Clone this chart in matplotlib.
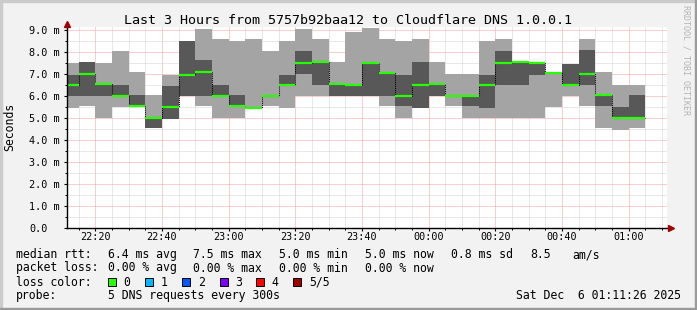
import matplotlib
matplotlib.use('Agg')
import matplotlib.pyplot as plt
from matplotlib.patches import Rectangle

# start of each 5 minute step
steps = ["22:10", "22:15", "22:20", "22:25", "22:30", "22:35", "22:40", "22:45", "22:50", "22:55",
         "23:00", "23:05", "23:10", "23:15", "23:20", "23:25", "23:30", "23:35", "23:40", "23:45",
         "23:50", "23:55", "00:00", "00:05", "00:10", "00:15", "00:20", "00:25", "00:30", "00:35",
         "00:40", "00:45", "00:50", "00:55", "01:00"]

# sorted pings in ms (5 requests per step)
rtt_min = [5.47, 5.55, 5.00, 5.50, 5.55, 4.55, 4.97, 6.00, 5.55, 5.00,
           5.00, 5.47, 5.55, 5.47, 6.00, 6.00, 6.00, 6.00, 6.00, 5.55,
           5.00, 5.47, 6.00, 5.55, 5.00, 5.00, 5.00, 5.00, 5.00, 5.50,
           6.00, 5.55, 4.56, 4.48, 4.56]
rtt_p2 = [6.00, 6.00, 6.00, 6.03, 5.55, 4.55, 4.97, 6.00, 6.00, 6.03,
          5.55, 5.47, 6.03, 6.50, 7.03, 6.53, 6.00, 6.00, 6.00, 6.00,
          5.55, 5.47, 6.00, 6.03, 5.55, 5.47, 6.50, 6.53, 6.95, 7.08,
          6.50, 6.53, 5.55, 5.02, 5.02]
rtt_median = [6.50, 7.03, 6.55, 6.03, 5.55, 5.02, 5.50, 6.97, 7.10, 6.03,
              5.55, 5.47, 6.03, 6.50, 7.52, 7.55, 6.55, 6.50, 7.52, 7.08,
              6.03, 6.50, 6.55, 6.03, 6.03, 6.50, 7.52, 7.55, 7.52, 7.08,
              6.50, 7.03, 6.05, 5.02, 5.02]
rtt_p4 = [6.95, 7.55, 6.55, 6.50, 6.07, 5.02, 6.45, 8.50, 7.64, 6.50,
          6.07, 5.47, 6.03, 6.95, 8.05, 7.55, 6.55, 6.50, 7.52, 7.08,
          6.95, 7.55, 6.55, 6.03, 6.03, 6.95, 8.05, 7.55, 7.52, 7.08,
          7.45, 8.09, 6.05, 5.50, 6.05]
rtt_max = [7.52, 7.55, 7.52, 8.05, 7.10, 6.05, 6.95, 8.50, 9.05, 8.59,
           8.50, 8.59, 8.05, 8.50, 9.05, 8.59, 7.55, 8.92, 9.09, 8.59,
           8.50, 8.59, 7.55, 7.03, 7.03, 8.50, 8.59, 7.55, 7.52, 7.08,
           7.45, 8.59, 7.09, 6.53, 6.53]

tick_times = ["22:20", "22:40", "23:00", "23:20", "23:40", "00:00", "00:20", "00:40", "01:00"]
y_labels = ["0.0", "1.0 m", "2.0 m", "3.0 m", "4.0 m", "5.0 m", "6.0 m", "7.0 m", "8.0 m", "9.0 m"]

loss_names = ["0", "1", "2", "3", "4", "5/5"]
loss_colors = ["#26ff00", "#00b8ff", "#0059ff", "#7e00ff", "#ff0000", "#a10000"]


def to_min(s):
    h, m = map(int, s.split(":"))
    return ((h - 22) % 24) * 60 + m


W, H = 697, 310
MONO = "DejaVu Sans Mono"
LIGHT = "#a4a4a4"
DARK = "#585858"
GREEN = "#26ff00"


def fx(x):
    return x / W


def fy(y):
    return 1 - y / H


fig = plt.figure(figsize=(W / 100, H / 100), dpi=100, facecolor="#f2f2f2")

# plot area: 3 hours ending 01:11:26, 22 px per ms
t_start = to_min("22:11") + 26 / 60
t_end = t_start + 180
y_top = 9.15
x0, x1, y0 = 66.7, 666.7, 228.3
ax = fig.add_axes([fx(x0), fy(y0), (x1 - x0) / W, y_top * 22 / H])
ax.set_facecolor("white")
ax.set_xlim(t_start, t_end)
ax.set_ylim(0, y_top)

t = [to_min(s) for s in steps]
ax.bar(t, [b - a for a, b in zip(rtt_min, rtt_max)], bottom=rtt_min, width=5,
       align="edge", color=LIGHT, linewidth=0, zorder=1)
ax.bar(t, [b - a for a, b in zip(rtt_p2, rtt_p4)], bottom=rtt_p2, width=5,
       align="edge", color=DARK, linewidth=0, zorder=1.2)
ax.step(t + [t[-1] + 5], rtt_median + [rtt_median[-1]], where="post",
        color="black", lw=0.75, ls=(0, (1, 1)), zorder=3)
ax.hlines(rtt_median, t, [v + 5 for v in t], colors=GREEN, lw=1.6, zorder=4)

# grid + ticks
ax.set_xticks([to_min(s) for s in tick_times])
ax.set_xticklabels(tick_times, family=MONO, fontsize=7.3)
ax.set_xticks([v for v in range(15, 191, 5)], minor=True)
ax.set_yticks(range(10))
ax.set_yticklabels(y_labels, family=MONO, fontsize=7.3, ha="left")
ax.set_yticks([v + 0.5 for v in range(9)], minor=True)
ax.set_axisbelow(True)
ax.grid(which="major", color="#f0a0a0", lw=0.72, ls=(0, (1, 1)))
ax.grid(which="minor", color="#d2d2d2", lw=0.72, ls=(0, (1, 1)))
ax.tick_params(axis="y", which="major", length=2.2, width=0.8, pad=24.6)
ax.tick_params(axis="x", which="major", length=2.2, width=0.8, pad=0.8)
ax.tick_params(which="minor", length=1.4, width=0.7)
for side in ["top", "right"]:
    ax.spines[side].set_visible(False)
for side in ["left", "bottom"]:
    ax.spines[side].set_color("black")
    ax.spines[side].set_linewidth(1)
    ax.spines[side].set_zorder(5)

# axis arrows
ax.plot([t_start], [9.29], marker="^", color="#a00000", ms=4, clip_on=False, zorder=6)
ax.plot([t_start + (671 - x0) / (600 / 180)], [0], marker=">", color="#a00000",
        ms=4, clip_on=False, zorder=6)

fig.text(fx(348), fy(24), "Last 3 Hours from 5757b92baa12 to Cloudflare DNS 1.0.0.1",
         ha="center", va="baseline", family=MONO, fontsize=9.6)
fig.text(fx(10), fy(127), "Seconds", rotation=90, ha="center", va="center",
         family=MONO, fontsize=8.3)
fig.text(fx(686), fy(60), "RRDTOOL / TOBI OETIKER", rotation=-90, ha="center",
         va="center", family=MONO, fontsize=6, color="#b4b4b4")

# legend block
lines = [
    (258, [("median rtt:", 16), ("6.4 ms avg", 107.6), ("7.5 ms max", 193.3),
           ("5.0 ms min", 279), ("5.0 ms now", 365.3), ("0.8 ms sd", 451),
           ("8.5", 529.8), ("am/s", 572.4)]),
    (271.5, [("packet loss:", 16), ("0.00 % avg", 107.6), ("0.00 % max", 193.3),
             ("0.00 % min", 279), ("0.00 % now", 365.3)]),
    (285.5, [("loss color:", 16)]),
    (299, [("probe:", 16), ("5 DNS requests every 300s", 107.6)]),
]
for base, segs in lines:
    for txt, x in segs:
        fig.text(fx(x), fy(base), txt, ha="left", va="baseline", family=MONO, fontsize=8.3)
fig.text(fx(680.5), fy(299), "Sat Dec  6 01:11:26 2025", ha="right", va="baseline",
         family=MONO, fontsize=8.3)

box_x = [108, 145.3, 182.2, 219.6, 256.4, 293.3]
for name, col, bx in zip(loss_names, loss_colors, box_x):
    fig.patches.append(Rectangle((fx(bx), fy(286)), 8 / W, 8 / H, transform=fig.transFigure,
                                 facecolor=col, edgecolor="black", lw=0.7))
    fig.text(fx(bx + 15.5), fy(285.5), name, ha="left", va="baseline", family=MONO, fontsize=8.3)

# frame
fig.patches.append(Rectangle((0, 0), 2 / W, 1, transform=fig.transFigure, color="#cbcbcb"))
fig.patches.append(Rectangle((0, 1 - 2 / H), 1, 2 / H, transform=fig.transFigure, color="#cbcbcb"))
fig.patches.append(Rectangle((1 - 2 / W, 0), 2 / W, 1, transform=fig.transFigure, color="#9a9a9a"))
fig.patches.append(Rectangle((0, 0), 1, 2 / H, transform=fig.transFigure, color="#9a9a9a"))

fig.savefig("out.png", dpi=100, facecolor=fig.get_facecolor())
